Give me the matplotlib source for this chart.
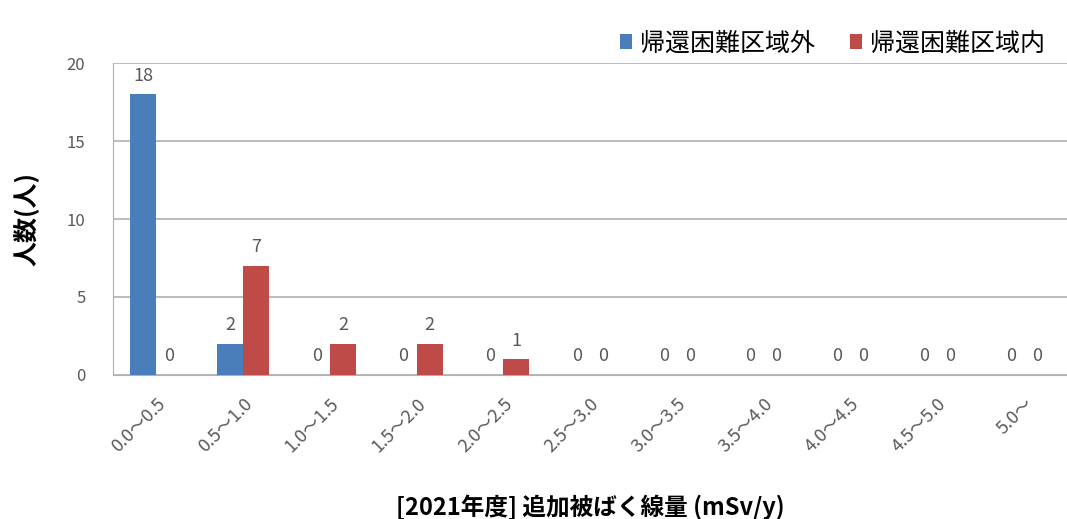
import numpy as np
import matplotlib
matplotlib.use("Agg")
import matplotlib.pyplot as plt

plt.rcParams['font.family'] = ['Noto Sans CJK JP', 'DejaVu Sans']

categories = ["0.0～0.5", "0.5～1.0", "1.0～1.5", "1.5～2.0", "2.0～2.5", "2.5～3.0",
              "3.0～3.5", "3.5～4.0", "4.0～4.5", "4.5～5.0", "5.0～"]
outside_zone = [18, 2, 0, 0, 0, 0, 0, 0, 0, 0, 0]
inside_zone = [0, 7, 2, 2, 1, 0, 0, 0, 0, 0, 0]
series_names = ["帰還困難区域外", "帰還困難区域内"]
y_ticks = [0, 5, 10, 15, 20]

blue = "#4a7ebb"
red = "#be4b48"
text_gray = "#595959"

fig = plt.figure(figsize=(10.67, 5.19), dpi=100)
ax = fig.add_axes([0.106, 0.2775, 0.894, 0.601])

x = np.arange(len(categories))
w = 0.3
b1 = ax.bar(x - w / 2, outside_zone, w, color=blue, label=series_names[0], zorder=3)
b2 = ax.bar(x + w / 2, inside_zone, w, color=red, label=series_names[1], zorder=3)

for bars, vals in ((b1, outside_zone), (b2, inside_zone)):
    for rect, v in zip(bars, vals):
        ax.annotate(str(v), (rect.get_x() + rect.get_width() / 2, v),
                    xytext=(0, 7), textcoords="offset points",
                    ha="center", va="bottom", fontsize=13, color=text_gray)

ax.set_xlim(-0.5, len(categories) - 0.5)
ax.set_ylim(0, 20)
ax.set_yticks(y_ticks)
ax.yaxis.grid(True, color="#b0b0b0", linewidth=1.2, zorder=0)
ax.set_axisbelow(True)
for side in ("top", "right"):
    ax.spines[side].set_visible(False)
ax.spines["left"].set_color("#b0b0b0")
ax.spines["bottom"].set_color("#b0b0b0")
ax.tick_params(axis="y", length=0, labelsize=12, labelcolor=text_gray, pad=20)
ax.tick_params(axis="x", length=0, labelsize=13, labelcolor=text_gray, pad=14)
ax.set_xticks(x)
ax.set_xticklabels(categories, rotation=45, ha="right", rotation_mode="anchor")

ax.set_ylabel("人数(人)", fontsize=18, fontweight="bold", labelpad=20)
ax.set_xlabel("[2021年度] 追加被ばく線量 (mSv/y)", fontsize=17, fontweight="bold", labelpad=28)

fig.legend(handles=[b1, b2], labels=series_names, loc="upper right",
           bbox_to_anchor=(1.0, 0.985), ncol=2, frameon=False,
           fontsize=18, handlelength=0.5, handleheight=0.5, handletextpad=0.3,
           columnspacing=1.4)

fig.savefig("out.png", dpi=100)
